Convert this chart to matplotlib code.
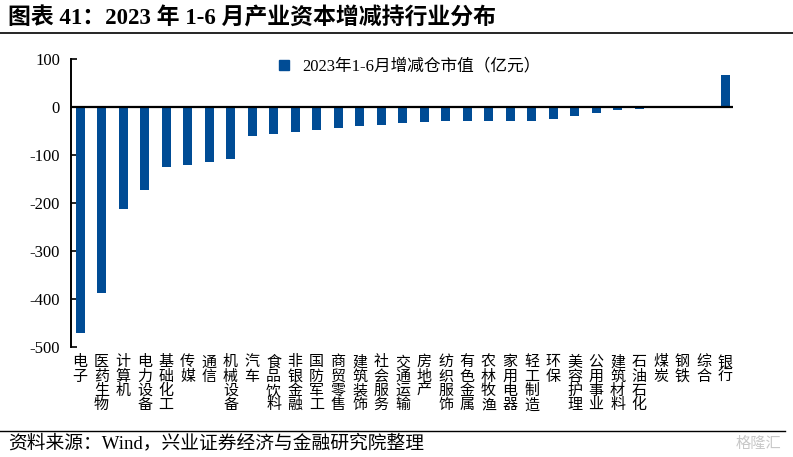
import matplotlib
matplotlib.use("Agg")
import matplotlib.pyplot as plt
from matplotlib.lines import Line2D

plt.rcParams['font.family'] = ['Liberation Serif', 'Noto Sans CJK SC']

categories = ["电子", "医药生物", "计算机", "电力设备", "基础化工", "传媒", "通信", "机械设备",
              "汽车", "食品饮料", "非银金融", "国防军工", "商贸零售", "建筑装饰", "社会服务",
              "交通运输", "房地产", "纺织服饰", "有色金属", "农林牧渔", "家用电器", "轻工制造",
              "环保", "美容护理", "公用事业", "建筑材料", "石油石化", "煤炭", "钢铁", "综合", "银行"]
values = [-470, -388, -213, -172, -126, -120, -115, -108,
          -60, -57, -53, -47, -43, -40, -37,
          -34, -32, -30, -30, -29, -29, -29,
          -24, -19, -13, -7, -4, -2, -0.5, 0.3, 66]
series_name = "2023年1-6月增减仓市值（亿元）"
yticks = [100, 0, -100, -200, -300, -400, -500]
title = "图表 41：2023 年 1-6 月产业资本增减持行业分布"
source = "资料来源：Wind，兴业证券经济与金融研究院整理"

color = '#004C95'
fig = plt.figure(figsize=(7.93, 4.57), dpi=100)
ax = fig.add_axes([71/793, 1-347/457, (733-71)/793, (347-59)/457])

x = list(range(len(categories)))
ax.bar(x, values, width=0.42, color=color, zorder=2)
ax.set_ylim(-500, 100)
ax.set_xlim(-0.42, 30.37)
ax.axhline(0, color='black', lw=1.6, zorder=3)

ax.set_yticks(yticks)
ax.set_yticklabels([str(v) for v in yticks], fontsize=12)
ax.tick_params(axis='y', direction='in', length=4, width=1.2, pad=8)
ax.set_xticks(x)
ax.set_xticklabels(['\n'.join(c) for c in categories], fontsize=10.8,
                   family=['Noto Sans CJK SC'], linespacing=1.02, va='top')
ax.tick_params(axis='x', length=0, pad=6)

for s in ['top', 'right', 'bottom']:
    ax.spines[s].set_visible(False)
ax.spines['left'].set_linewidth(1.4)

handle = Line2D([], [], marker='s', color=color, linestyle='None', markersize=7.5)
ax.legend([handle], [series_name], loc='upper center', bbox_to_anchor=(0.503, 1.025),
          frameon=False, fontsize=12, handletextpad=0.1, borderaxespad=0)

fig.text(8/793, 1-18/457, title, fontsize=16.5, fontweight='bold', va='center', ha='left')
fig.add_artist(Line2D([0, 1], [1-33/457, 1-33/457], color='black', lw=1.2, transform=fig.transFigure))
fig.add_artist(Line2D([0, 0.99], [1-431/457, 1-431/457], color='black', lw=1.0, transform=fig.transFigure))
fig.text(8/793, 1-443/457, source, fontsize=13.5, va='center', ha='left')
fig.text(0.985, 1-443/457, "格隆汇", fontsize=11, va='center', ha='right', color='#c8c8c8',
         family=['Noto Sans CJK SC'])

fig.savefig('out.png', dpi=100)
